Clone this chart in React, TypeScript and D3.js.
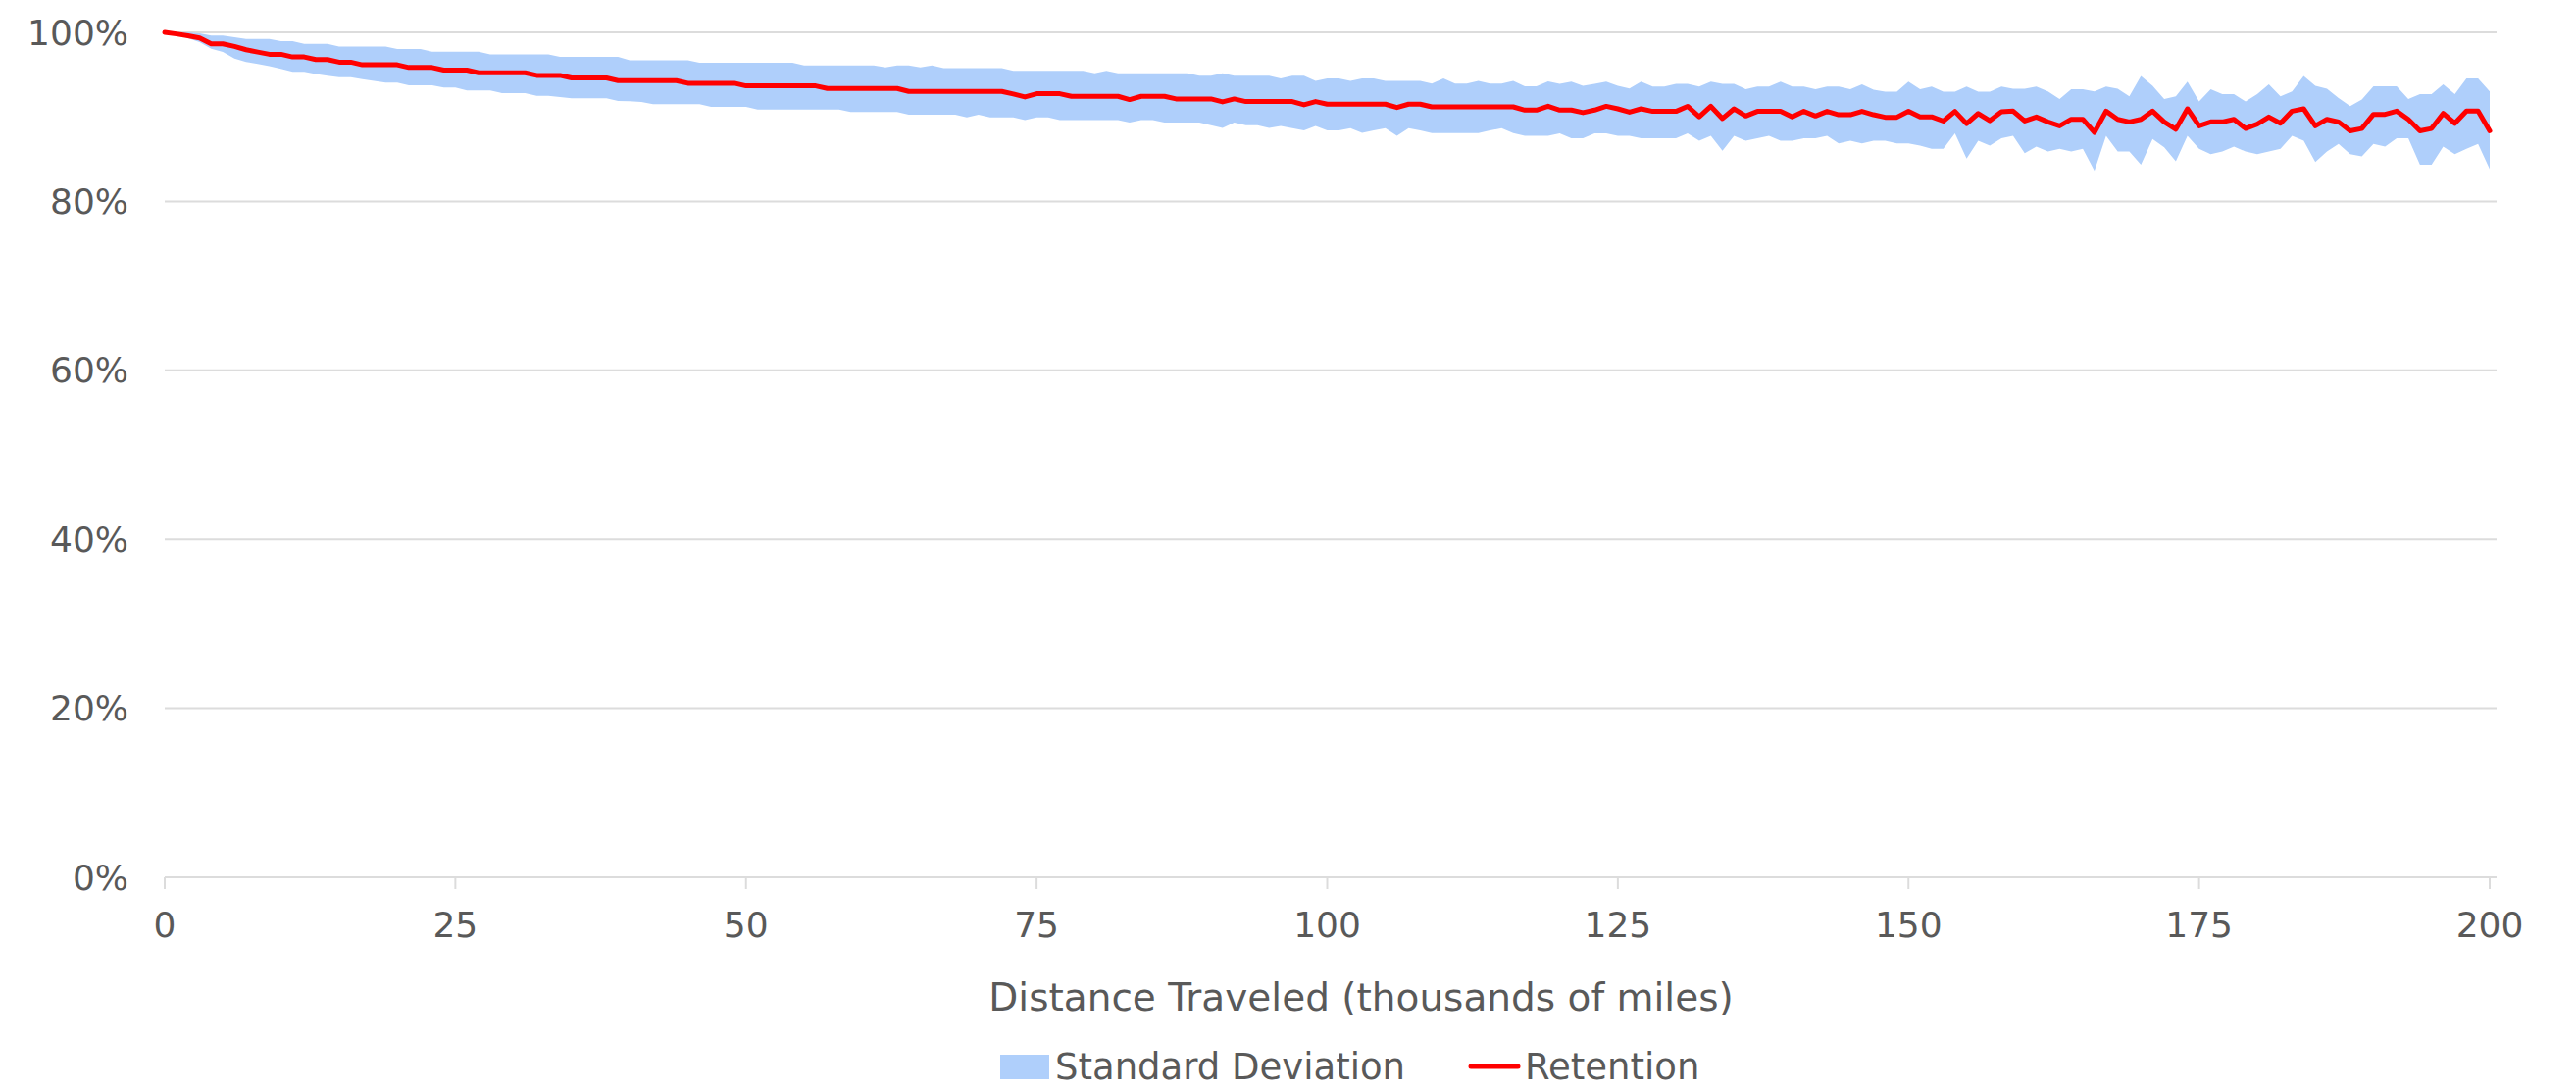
import React from 'react';
import * as d3 from 'd3';

// Retention (%) at each thousand miles, 0..200
const retention = [
  100, 99.81, 99.6, 99.34, 98.64, 98.64, 98.33, 97.94, 97.67, 97.4,
  97.4, 97.09, 97.09, 96.78, 96.78, 96.47, 96.47, 96.16, 96.16, 96.16,
  96.16, 95.84, 95.84, 95.84, 95.53, 95.53, 95.53, 95.22, 95.22, 95.22,
  95.22, 95.22, 94.91, 94.91, 94.91, 94.6, 94.6, 94.6, 94.6, 94.29,
  94.29, 94.29, 94.29, 94.29, 94.29, 93.98, 93.98, 93.98, 93.98, 93.98,
  93.67, 93.67, 93.67, 93.67, 93.67, 93.67, 93.67, 93.36, 93.36, 93.36,
  93.36, 93.36, 93.36, 93.36, 93.01, 93.01, 93.01, 93.01, 93.01, 93.01,
  93.01, 93.01, 93.01, 92.7, 92.35, 92.74, 92.74, 92.74, 92.43, 92.43,
  92.43, 92.43, 92.43, 92.04, 92.43, 92.43, 92.43, 92.12, 92.12, 92.12,
  92.12, 91.77, 92.12, 91.81, 91.81, 91.81, 91.81, 91.81, 91.42, 91.81,
  91.5, 91.5, 91.5, 91.5, 91.5, 91.5, 91.11, 91.5, 91.5, 91.18,
  91.18, 91.18, 91.18, 91.18, 91.18, 91.18, 91.18, 90.8, 90.8, 91.26,
  90.8, 90.8, 90.5, 90.8, 91.25, 90.95, 90.55, 90.95, 90.65, 90.65,
  90.65, 91.25, 90.0, 91.25, 89.8, 90.95, 90.1, 90.65, 90.65, 90.65,
  90.0, 90.65, 90.1, 90.65, 90.25, 90.25, 90.65, 90.25, 89.95, 89.95,
  90.65, 90.0, 90.0, 89.5, 90.65, 89.2, 90.4, 89.55, 90.6, 90.68,
  89.51, 89.98, 89.4, 88.93, 89.71, 89.71, 88.16, 90.68, 89.71, 89.4,
  89.71, 90.68, 89.4, 88.54, 90.95, 88.93, 89.4, 89.4, 89.71, 88.62,
  89.13, 89.98, 89.24, 90.68, 90.95, 88.93, 89.71, 89.4, 88.35, 88.62,
  90.29, 90.29, 90.68, 89.71, 88.35, 88.62, 90.41, 89.24, 90.68, 90.68,
  88.35,
];

// Upper edge of the standard deviation band (%)
const upperBand = [
  100, 100, 100, 99.88, 99.61, 99.61, 99.42, 99.22, 99.22, 99.22,
  98.95, 98.95, 98.64, 98.64, 98.64, 98.33, 98.33, 98.33, 98.33, 98.33,
  98.02, 98.02, 98.02, 97.71, 97.71, 97.71, 97.71, 97.71, 97.4, 97.4,
  97.4, 97.4, 97.4, 97.4, 97.09, 97.09, 97.09, 97.09, 97.09, 97.09,
  96.7, 96.7, 96.7, 96.7, 96.7, 96.7, 96.39, 96.39, 96.39, 96.39,
  96.39, 96.39, 96.39, 96.39, 96.39, 96.08, 96.08, 96.08, 96.08, 96.08,
  96.08, 96.08, 95.84, 96.08, 96.08, 95.84, 96.08, 95.77, 95.77, 95.77,
  95.77, 95.77, 95.77, 95.46, 95.46, 95.46, 95.46, 95.46, 95.46, 95.46,
  95.15, 95.46, 95.15, 95.15, 95.15, 95.15, 95.15, 95.15, 95.15, 94.87,
  94.87, 95.15, 94.87, 94.87, 94.87, 94.87, 94.56, 94.87, 94.87, 94.25,
  94.56, 94.56, 94.25, 94.56, 94.56, 94.25, 94.25, 94.25, 94.25, 93.94,
  94.56, 93.94, 93.94, 94.25, 93.94, 93.94, 94.25, 93.63, 93.63, 94.2,
  93.9, 94.17, 93.67, 93.9, 94.17, 93.67, 93.36, 94.17, 93.6, 93.6,
  93.9, 93.9, 93.6, 94.17, 93.9, 93.9, 93.28, 93.6, 93.6, 94.17,
  93.6, 93.6, 93.28, 93.6, 93.6, 93.28, 93.86, 93.2, 92.97, 92.97,
  94.17, 93.28, 93.6, 92.97, 92.97, 93.6, 92.97, 92.97, 93.6, 93.32,
  93.32, 93.59, 93.01, 92.12, 93.28, 93.28, 93.01, 93.59, 93.32, 92.43,
  94.83, 93.67, 92.12, 92.43, 94.17, 91.81, 93.28, 92.7, 92.7, 91.81,
  92.7, 93.86, 92.43, 93.01, 94.83, 93.67, 93.32, 92.23, 91.26, 92.04,
  93.63, 93.63, 93.63, 92.12, 92.7, 92.7, 93.86, 92.7, 94.56, 94.56,
  93.01,
];

// Lower edge of the standard deviation band (%)
const lowerBand = [
  100, 99.81, 99.3, 98.83, 98.06, 97.67, 96.89, 96.5, 96.25, 96.0,
  95.67, 95.34, 95.34, 95.07, 94.88, 94.68, 94.68, 94.45, 94.25, 94.06,
  94.06, 93.75, 93.75, 93.75, 93.48, 93.48, 93.13, 93.13, 93.13, 92.82,
  92.82, 92.82, 92.5, 92.5, 92.35, 92.19, 92.19, 92.19, 92.19, 91.88,
  91.84, 91.77, 91.5, 91.5, 91.5, 91.5, 91.5, 91.18, 91.18, 91.18,
  91.18, 90.87, 90.87, 90.87, 90.87, 90.87, 90.87, 90.87, 90.87, 90.56,
  90.56, 90.56, 90.56, 90.56, 90.25, 90.25, 90.25, 90.25, 90.25, 89.94,
  90.25, 89.94, 89.94, 89.94, 89.63, 89.94, 89.94, 89.63, 89.63, 89.63,
  89.63, 89.63, 89.63, 89.32, 89.63, 89.63, 89.32, 89.32, 89.32, 89.32,
  89.01, 88.7, 89.32, 89.01, 89.01, 88.7, 88.93, 88.66, 88.39, 88.93,
  88.39, 88.39, 88.66, 88.12, 88.39, 88.66, 87.77, 88.66, 88.39, 88.08,
  88.08, 88.08, 88.08, 88.08, 88.39, 88.66, 88.08, 87.77, 87.77, 87.77,
  88.04, 87.46, 87.46, 88.04, 88.04, 87.77, 87.77, 87.46, 87.46, 87.46,
  87.46, 88.04, 87.18, 87.77, 85.98, 87.77, 87.18, 87.46, 87.77, 87.18,
  87.18, 87.46, 87.46, 87.77, 86.87, 87.18, 86.87, 87.18, 87.18, 86.87,
  86.87, 86.6, 86.21, 86.21, 88.04, 85.05, 87.18, 86.6, 87.46, 87.77,
  85.71, 86.49, 85.9, 86.21, 85.9, 86.21, 83.61, 87.77, 85.9, 85.9,
  84.35, 87.38, 86.41, 84.74, 87.77, 86.21, 85.59, 85.9, 86.49, 85.9,
  85.59, 85.9, 86.21, 87.77, 87.18, 84.66, 85.9, 86.8, 85.59, 85.32,
  86.8, 86.49, 87.46, 87.46, 84.35, 84.35, 86.49, 85.59, 86.21, 86.8,
  83.81,
];

const xTicks = [0, 25, 50, 75, 100, 125, 150, 175, 200];
const yTicks = [0, 20, 40, 60, 80, 100];
const xTitle = 'Distance Traveled (thousands of miles)';
const legendBand = 'Standard Deviation';
const legendLine = 'Retention';

type Pt = { d: number; r: number; u: number; l: number };

export default function App() {
  const W = 2627;
  const H = 1111;
  const left = 168;
  const right = 2539;
  const gridRight = 2546;
  const top = 33;
  const bottom = 895;
  const font = '"DejaVu Sans", sans-serif';
  const textColor = '#595959';
  const gridColor = '#dcdcdc';
  const bandColor = '#afcffb';
  const lineColor = '#ff0000';

  const x = d3.scaleLinear().domain([0, 200]).range([left, right]);
  const y = d3.scaleLinear().domain([0, 100]).range([bottom, top]);

  const pts: Pt[] = retention.map((r, i) => ({ d: i, r, u: upperBand[i], l: lowerBand[i] }));

  const area = d3
    .area<Pt>()
    .x((p) => x(p.d))
    .y0((p) => y(p.l))
    .y1((p) => y(p.u));
  const line = d3
    .line<Pt>()
    .x((p) => x(p.d))
    .y((p) => y(p.r));

  const legendY = 1088;

  return (
    <svg
      width={W}
      height={H}
      style={{ position: 'absolute', left: 0, top: 0, background: '#fff' }}
      fontFamily={font}
    >
      <rect x={0} y={0} width={W} height={H} fill="#fff" />
      {yTicks.map((t) => (
        <g key={'y' + t}>
          <line x1={left} x2={gridRight} y1={y(t)} y2={y(t)} stroke={gridColor} strokeWidth={2} />
          <text
            x={131}
            y={y(t)}
            textAnchor="end"
            dominantBaseline="central"
            fontSize={36}
            fill={textColor}
          >
            {t + '%'}
          </text>
        </g>
      ))}
      {xTicks.map((t) => (
        <g key={'x' + t}>
          <line x1={x(t)} x2={x(t)} y1={bottom} y2={bottom + 12} stroke={gridColor} strokeWidth={2} />
          <text
            x={x(t)}
            y={943}
            textAnchor="middle"
            dominantBaseline="central"
            fontSize={36}
            fill={textColor}
          >
            {t}
          </text>
        </g>
      ))}
      <path d={area(pts) || ''} fill={bandColor} stroke="none" />
      <path
        d={line(pts) || ''}
        fill="none"
        stroke={lineColor}
        strokeWidth={5}
        strokeLinejoin="round"
        strokeLinecap="round"
      />
      <text
        x={1388}
        y={1017}
        textAnchor="middle"
        dominantBaseline="central"
        fontSize={39}
        fill={textColor}
      >
        {xTitle}
      </text>
      <g>
        <rect x={1020} y={legendY - 12} width={50} height={25} fill={bandColor} />
        <text x={1076} y={legendY} dominantBaseline="central" fontSize={37} fill={textColor}>
          {legendBand}
        </text>
        <line
          x1={1500}
          x2={1548}
          y1={legendY}
          y2={legendY}
          stroke={lineColor}
          strokeWidth={5}
          strokeLinecap="round"
        />
        <text x={1555} y={legendY} dominantBaseline="central" fontSize={37} fill={textColor}>
          {legendLine}
        </text>
      </g>
    </svg>
  );
}
